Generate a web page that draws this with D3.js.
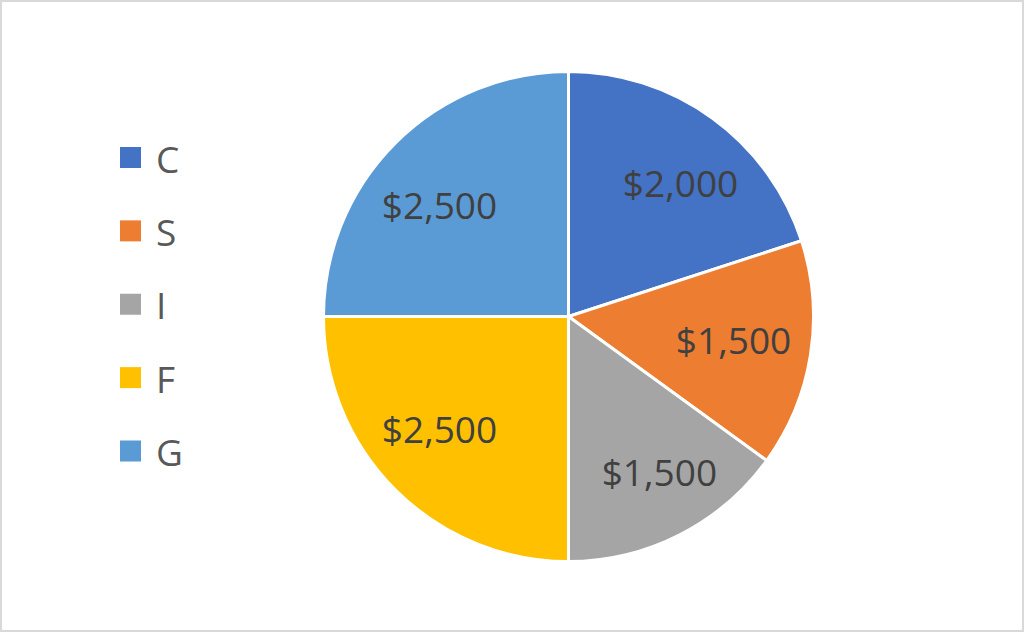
<!DOCTYPE html>
<html>
<head>
<meta charset="utf-8">
<script src="https://cdn.jsdelivr.net/npm/d3@7"></script>
<style>
  html, body { margin: 0; padding: 0; background: #fff; }
  svg { display: block; }
</style>
</head>
<body>
<svg id="chart" width="1024" height="632"></svg>
<script>
const categories = ["C", "S", "I", "F", "G"];
const values = [2000, 1500, 1500, 2500, 2500];
const colors = ["#4472C4", "#ED7D31", "#A5A5A5", "#FFC000", "#5B9BD5"];

const W = 1024, H = 632;
const svg = d3.select("#chart");
const font = "'Open Sans', 'Segoe UI', sans-serif";

// frame
svg.append("rect").attr("x", 1).attr("y", 1).attr("width", W - 2).attr("height", H - 2)
  .attr("fill", "#fff").attr("stroke", "#d9d9d9").attr("stroke-width", 2);

const cx = 568.5, cy = 316.5, R = 245;
const data = categories.map((c, i) => ({ cat: c, value: values[i], color: colors[i] }));
const pie = d3.pie().value(d => d.value).sort(null);
const arcs = pie(data);
const arc = d3.arc().innerRadius(0).outerRadius(R);

const g = svg.append("g").attr("transform", `translate(${cx},${cy})`);
g.selectAll("path.slice").data(arcs).enter().append("path")
  .attr("class", "slice")
  .attr("d", arc)
  .attr("fill", d => d.data.color)
  .attr("stroke", "#fff")
  .attr("stroke-width", 3)
  .attr("stroke-linejoin", "round");

// labels: placed along a (slightly flattened) mid-angle ray so the label box fits inside radius rho
const fmt = v => "$" + d3.format(",")(v);
const rho = 0.922 * R;
const labels = g.selectAll("text.lbl").data(arcs).enter().append("text")
  .attr("class", "lbl")
  .attr("text-anchor", "middle")
  .attr("dominant-baseline", "central")
  .attr("font-family", font)
  .attr("font-size", 37)
  .attr("fill", "#404040")
  .text(d => fmt(d.data.value));

labels.each(function(d) {
  const hw = this.getComputedTextLength() / 2;
  const hh = 15;
  const a = (d.startAngle + d.endAngle) / 2;
  let ux = Math.sin(a) * 1.15, uy = -Math.cos(a);
  const n = Math.hypot(ux, uy); ux /= n; uy /= n;
  const sx = Math.sign(ux) || 1, sy = Math.sign(uy) || 1;
  const b = 2 * (ux * sx * hw + uy * sy * hh);
  const c = hw * hw + hh * hh - rho * rho;
  const t = (-b + Math.sqrt(b * b - 4 * c)) / 2;
  d3.select(this).attr("x", t * ux).attr("y", t * uy);
});

// legend
const legY = d3.scalePoint().domain(categories).range([158, 451.5]);
const leg = svg.append("g");
const items = leg.selectAll("g").data(data).enter().append("g")
  .attr("transform", d => `translate(120,${legY(d.cat)})`);
items.append("rect").attr("x", 0).attr("y", -11).attr("width", 21).attr("height", 21)
  .attr("fill", d => d.color);
items.append("text").attr("x", 36).attr("y", 0)
  .attr("dominant-baseline", "central")
  .attr("font-family", font).attr("font-size", 37)
  .attr("fill", "#595959")
  .text(d => d.cat);
</script>
</body>
</html>
